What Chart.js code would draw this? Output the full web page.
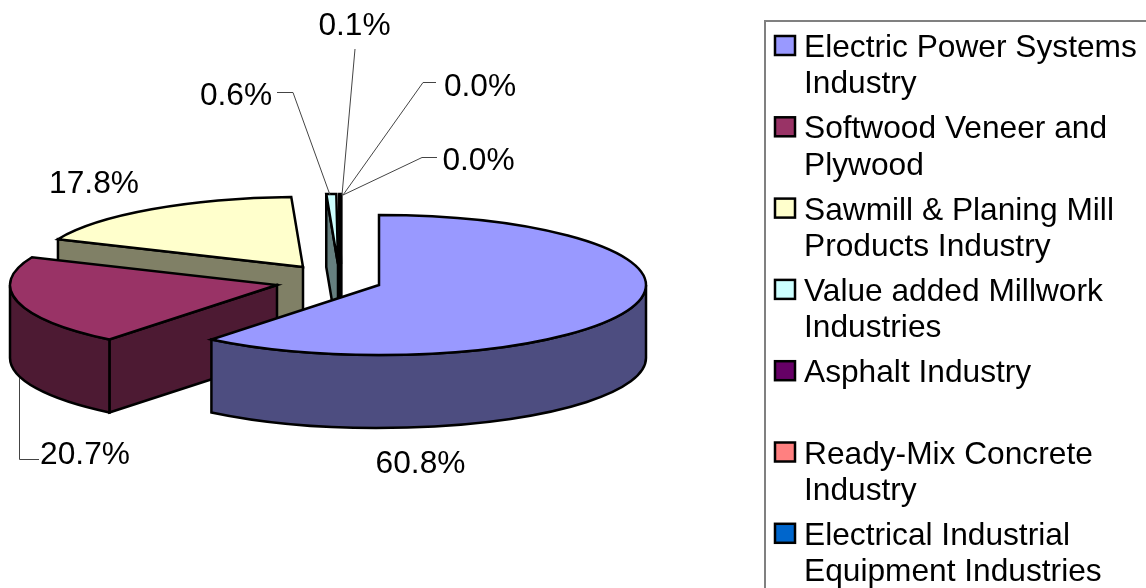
<!DOCTYPE html>
<html>
<head>
<meta charset="utf-8">
<style>html,body{margin:0;padding:0;background:#fff}canvas{display:block}</style>
<script src="https://cdn.jsdelivr.net/npm/chart.js@4"></script>
</head>
<body>
<canvas id="c" width="1146" height="588"></canvas>
<script>
const categories = ["Electric Power Systems Industry","Softwood Veneer and Plywood","Sawmill & Planing Mill Products Industry","Value added Millwork Industries","Asphalt Industry","Ready-Mix Concrete Industry","Electrical Industrial Equipment Industries"];
const shares = [60.8,20.7,17.8,0.6,0.1,0.0,0.0];
const faceColors = ["#9999FF","#993366","#FFFFCC","#CCFFFF","#660066","#FF8080","#0066CC"];
const wallColors = ["#4D4D80","#4D1A33","#808066","#668080","#330033","#804040","#003366"];
const explodeX = [0,-102,-76,-41,-38,-37,-37];
const explodeY = [0,0,-18,-21,-21,-21,-21];
const labelAnchors = [[420.5,473],[85,464],[94,193],[236,105],[354.5,35],[480,96],[478.5,170]];
const leaders = [[],[[39,459.5],[19.5,459.5],[19.5,378]],[],[[277,92.5],[293,92.5],[330,195]],[[355,49],[342,195]],[[436,82.5],[423,82.5],[343,195]],[[437,157.5],[422,157.5],[343,195]]];
const FONT = '31.7px "Liberation Sans"';
const TILT = 70/267, DEPTH = 73;

const pie3d = {
  id:'pie3d',
  beforeDatasetsDraw(chart){
    const ctx = chart.ctx, arcs = chart.getDatasetMeta(0).data;
    const order = [2,3,4,5,6,1,0];
    ctx.save();
    ctx.lineWidth = 2.5; ctx.strokeStyle = '#000'; ctx.lineJoin = 'miter';
    for(const i of order){
      const a = arcs[i], s = a.startAngle, e = a.endAngle;
      if(e - s < 1e-6) continue;
      const rx = a.outerRadius, ry = rx*TILT, cx = a.x+explodeX[i], cy = a.y+explodeY[i];
      const px = t=>cx+rx*Math.cos(t), py = t=>cy+ry*Math.sin(t);
      ctx.fillStyle = wallColors[i];
      [[s,s-Math.PI/2],[e,e+Math.PI/2]].forEach(([t,normal])=>{
        if(Math.sin(normal) <= 0.001) return;
        ctx.beginPath();
        ctx.moveTo(cx,cy);ctx.lineTo(px(t),py(t));ctx.lineTo(px(t),py(t)+DEPTH);ctx.lineTo(cx,cy+DEPTH);ctx.closePath();
        ctx.fill();ctx.stroke();
      });
      for(const base of [0,2*Math.PI]){
        const lo = Math.max(s,base), hi = Math.min(e,base+Math.PI);
        if(hi>lo){
          ctx.beginPath();
          ctx.ellipse(cx,cy,rx,ry,0,lo,hi);
          ctx.ellipse(cx,cy+DEPTH,rx,ry,0,hi,lo,true);
          ctx.closePath();ctx.fill();ctx.stroke();
        }
      }
      ctx.save();
      ctx.translate(cx,cy);ctx.scale(1,TILT);ctx.translate(-a.x,-a.y);
      a.draw(ctx);
      ctx.restore();
      ctx.beginPath();
      ctx.moveTo(cx,cy);ctx.ellipse(cx,cy,rx,ry,0,s,e);ctx.closePath();ctx.stroke();
      if(i===4){
        // the thinnest slice reads as a solid dark edge
        ctx.save();
        ctx.lineWidth = 4;
        ctx.beginPath();
        ctx.moveTo(cx-0.5,cy-ry);
        ctx.lineTo(cx-0.5,cy+DEPTH);
        ctx.stroke();
        ctx.restore();
      }
    }
    ctx.restore();
    return false;
  },
  afterDraw(chart){
    const ctx = chart.ctx;
    const colors = chart.data.datasets[0].backgroundColor;
    ctx.save();
    ctx.strokeStyle = '#444'; ctx.lineWidth = 1;
    leaders.forEach(l=>{ if(!l.length) return; ctx.beginPath(); l.forEach((p,j)=>j?ctx.lineTo(p[0],p[1]):ctx.moveTo(p[0],p[1])); ctx.stroke(); });
    ctx.font = FONT; ctx.fillStyle = '#000'; ctx.textAlign='center'; ctx.textBaseline='alphabetic';
    chart.data.datasets[0].data.forEach((v,i)=>ctx.fillText(v.toFixed(1)+'%',labelAnchors[i][0],labelAnchors[i][1]));
    ctx.strokeStyle='#808080'; ctx.lineWidth=2;
    ctx.beginPath();ctx.moveTo(1147,21);ctx.lineTo(765,21);ctx.lineTo(765,589);ctx.stroke();
    ctx.textAlign='left';
    chart.data.labels.forEach((label,i)=>{
      const y = 57 + i*81.3;
      ctx.fillStyle = colors[i]; ctx.fillRect(775,y-21,20,19);
      ctx.strokeStyle='#000'; ctx.lineWidth=2.5; ctx.strokeRect(775,y-21,20,19);
      const words = label.split(' '); let lines=[], cur='';
      for(const w of words){ const t = cur?cur+' '+w:w; if(ctx.measureText(t).width>342){lines.push(cur);cur=w;} else cur=t; }
      lines.push(cur);
      ctx.fillStyle='#000';
      lines.forEach((ln,j)=>ctx.fillText(ln,804,y+j*36.3));
    });
    ctx.restore();
  }
};

new Chart(document.getElementById('c'),{
  type:'pie',
  data:{labels:categories,datasets:[{data:shares,backgroundColor:faceColors,borderWidth:0}]},
  options:{
    responsive:false,animation:false,
    layout:{padding:{left:112,right:500,top:18,bottom:36}},
    plugins:{legend:{display:false},tooltip:{enabled:false}}
  },
  plugins:[pie3d]
});
</script>
</body>
</html>
